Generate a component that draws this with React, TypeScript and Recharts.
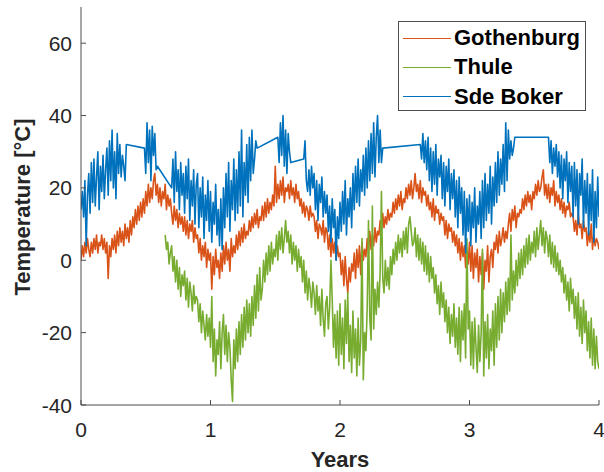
import React from 'react';
import { LineChart, Line, XAxis, YAxis } from 'recharts';

// Sampling interval of every temperature record, in years
const STEP = 0.01;

const YEAR_TICKS = [0, 1, 2, 3, 4];
const TEMP_TICKS = [-40, -20, 0, 20, 40, 60];

// Gothenburg, from t = 0
const gothenburg = [
  0, 4, 1, 5, 2, 6, 3, 1, 5, 2,
  6, 3, 7, 2, 5, 4, 7, 3, 6, 2,
  5, -5, 4, 1, 6, 3, 7, 2, 8, 4,
  9, 5, 8, 4, 10, 6, 9, 5, 11, 7,
  12, 9, 14, 10, 15, 11, 16, 12, 17, 13,
  19, 15, 21, 16, 20, 17, 22, 24, 18, 21,
  16, 20, 15, 19, 17, 21, 14, 18, 15, 17,
  13, 10, 15, 11, 14, 9, 13, 10, 12, 8,
  12, 7, 11, 6, 10, 8, 11, 5, 9, 6,
  7, 2, 6, 0, 4, 1, 5, -2, 3, 0,
  2, -8, 1, -4, 3, -2, 0, -5, 2, -3,
  4, -1, 5, 0, 3, -3, 6, 1, 4, 2,
  7, 3, 8, 4, 9, 5, 10, 6, 8, 7,
  11, 8, 12, 9, 13, 10, 14, 9, 12, 11,
  15, 11, 16, 12, 17, 13, 16, 14, 18, 15,
  26, 16, 21, 17, 22, 18, 23, 16, 20, 19,
  21, 17, 22, 18, 20, 16, 21, 17, 19, 15,
  17, 13, 16, 12, 15, 14, 11, 15, 12, 13,
  12, 8, 11, 6, 10, 9, 7, 11, 5, 9,
  8, 3, 7, 1, 6, 2, 5, 0, 4, 1,
  2, -4, 0, -7, 1, -5, -9, -2, -6, -1,
  -3, 2, -5, 3, -2, 4, -4, 5, 0, 3,
  1, 6, 2, 8, 3, 7, 4, 9, 5, 8,
  7, 11, 8, 13, 9, 12, 10, 14, 11, 13,
  12, 16, 13, 17, 14, 18, 15, 19, 14, 17,
  16, 20, 17, 21, 18, 22, 17, 20, 24, 19,
  21, 17, 22, 16, 20, 18, 19, 15, 18, 14,
  16, 12, 17, 11, 15, 13, 14, 10, 13, 11,
  12, 7, 11, 6, 10, 8, 9, 5, 8, 4,
  7, 2, 6, 0, 5, 1, 4, -2, 3, -1,
  5, -3, 4, -5, 2, -2, 3, -6, 1, -4,
  2, -8, 0, -3, 4, -6, 1, 3, -2, 5,
  3, 7, 2, 8, 4, 6, 9, 5, 8, 6,
  10, 13, 8, 14, 11, 15, 9, 13, 12, 14,
  13, 17, 14, 18, 15, 19, 16, 18, 14, 19,
  17, 21, 18, 22, 19, 20, 23, 25, 18, 21,
  17, 21, 16, 20, 18, 22, 15, 19, 16, 18,
  14, 17, 13, 16, 12, 15, 14, 16, 12, 13,
  12, 8, 11, 7, 13, 9, 10, 6, 11, 8,
  9, 4, 8, 5, 10, 3, 7, 4, 6, 5,
  3,
];

// Thule, record begins at t = 0.65
const thuleStart = 0.65;
const thule = [
  7, 3, 5, -1, 2,
  4, -3, 1, -6, 0, -8, -2, -10, -4, -7,
  -3, -11, -5, -13, -6, -9, -14, -7, -12, -10,
  -11, -17, -12, -20, -14, -18, -22, -15, -21, -16,
  -24, -10, -28, -19, -32, -22, -26, -17, -30, -20,
  -15, -26, -18, -28, -20, -24, -33, -39, -22, -30,
  -19, -28, -17, -26, -15, -24, -13, -22, -11, -20,
  -12, -21, -10, -18, -7, -16, -4, -14, -2, -11,
  -8, 0, -6, 2, -4, 4, -3, 5, -1, 3,
  1, 7, 0, 8, 3, 9, 2, 6, 11, 5,
  8, 2, 7, -1, 5, 0, 4, -3, 3, -2,
  1, -6, 0, -9, -3, -11, -5, -8, -13, -6,
  -9, -15, -7, -14, -10, -18, -8, -16, -21, -12,
  -10, -19, -13, 0, -11, -24, -15, -27, -14, -29,
  -12, -26, -16, -30, -11, -23, -9, -28, -18, -31,
  -14, -27, -19, -32, -16, -29, -22, 6, -33, -20,
  -25, -13, 11, -16, -22, 15, -19, -8, -15, -6,
  -13, -3, 19, -5, -9, 0, -7, -2, -8, 1,
  -4, 3, -1, 5, 0, 7, 2, 6, 1, 8,
  3, 9, 2, 10, 12, 8, 4, 5, 9, 1,
  7, 0, 6, -1, 5, -3, 4, -4, 2, -6,
  1, -5, -2, -9, -4, -12, -7, -15, -6, -13,
  -9, -17, -11, -20, -13, -23, -15, -21, -12, -24,
  -16, -26, -13, -28, -14, -22, -12, -27, 6, -19,
  -14, -29, -17, -30, -16, -24, -31, -18, -28, -20,
  3, -32, -17, -27, -15, -30, -19, -25, -14, -29,
  -12, -24, -10, -22, -8, -20, -9, -17, -6, -15,
  -5, -14, 7, -11, -3, -9, 0, -7, 2, -5,
  3, -4, 4, -2, 6, -1, 7, 0, 5, 2,
  8, 1, 9, 3, 7, 11, 4, 9, 2, 8,
  6, 1, 7, -1, 5, -2, 4, -3, 2, -4,
  0, -6, -2, -9, -4, -11, -6, -14, -5, -12,
  -8, -16, -10, -19, -9, -21, -13, -23, -11, -20,
  -14, -25, -17, -27, -16, -29, -19, -30, -21, -28,
  -30,
];

// Sde Boker, recorded in stretches; the line runs straight across missing days
const sdeBoker1Start = 0.0;
const sdeBoker1 = [
  14, 19, 12, 22, 4, 18, 24, 13, 27, 16,
  28, 15, 23, 30, 14, 26, 19, 29, 17, 25,
  31, 18, 33, 22, 36, 20, 30, 17, 35, 24,
  32, 23, 29, 26, 22, 32,
];
const sdeBoker2Start = 0.49;
const sdeBoker2 = [31, 24, 38, 27, 36, 22, 37, 29, 35, 25, 26];
const sdeBoker3Start = 0.7;
const sdeBoker3 = [
  20, 28, 16, 30, 19, 25, 14, 27, 18, 24,
  13, 26, 17, 28, 11, 22, 15, 25, 10, 21,
  24, 9, 20, 12, 23, 6, 18, 11, 22, 8,
  19, 5, 16, 10, 21, 7, 14, 4, 17, 3,
  20, 9, 24, 12, 27, 8, 22, 14, 28, 11,
  25, 13, 30, 15, 36, 12, 27, 18, 32, 16,
  34, 22, 36, 24, 28, 33, 31,
];
const sdeBoker4Start = 1.52;
const sdeBoker4 = [34, 27, 38, 29, 40, 26, 36, 24, 35, 30, 27];
const sdeBoker5Start = 1.72;
const sdeBoker5 = [
  28, 33, 22, 19, 25, 18, 26, 20,
  24, 14, 22, 11, 21, 16, 23, 12, 19, 13,
  18, 8, 15, 5, 17, 9, 14, 0, 12, 6,
  16, 8, 19, 10, 22, 7, 17, 12, 20, 9,
  24, 14, 26, 16, 28, 15, 25, 19, 29, 18,
  31, 20, 33, 22, 35, 24, 38, 23, 34, 40,
  27, 36, 27, 31,
];
const sdeBoker6Start = 2.62;
const sdeBoker6 = [
  32, 28, 35, 27, 33, 25, 34, 22,
  31, 19, 30, 21, 32, 18, 28, 23, 29, 17,
  27, 15, 26, 19, 28, 14, 24, 17, 25, 12,
  22, 9, 23, 13, 20, 7, 19, 2, 17, 8,
  18, 4, 16, 9, 20, 5, 15, 10, 19, 6,
  22, 9, 24, 11, 21, 13, 26, 10, 23, 15,
  27, 16, 30, 18, 28, 21, 32, 19, 38, 22,
  36, 28, 33, 29, 31, 34,
];
const sdeBoker7Start = 3.61;
const sdeBoker7 = [
  34, 27, 33, 24, 31, 26, 32, 23, 30,
  20, 29, 17, 28, 22, 30, 16, 27, 19, 26,
  12, 27, 15, 25, 10, 24, 18, 28, 9, 22,
  13, 24, 7, 21, 11, 25, 5, 19, 9, 23,
  12,
];

type Point = { t: number; v: number };

const toPoints = (start: number, values: number[]): Point[] =>
  values.map((v, i) => ({ t: Math.round((start + i * STEP) * 100) / 100, v }));

const gothenburgData = toPoints(0, gothenburg);
const thuleData = toPoints(thuleStart, thule);
const sdeBokerData = [
  ...toPoints(sdeBoker1Start, sdeBoker1),
  ...toPoints(sdeBoker2Start, sdeBoker2),
  ...toPoints(sdeBoker3Start, sdeBoker3),
  ...toPoints(sdeBoker4Start, sdeBoker4),
  ...toPoints(sdeBoker5Start, sdeBoker5),
  ...toPoints(sdeBoker6Start, sdeBoker6),
  ...toPoints(sdeBoker7Start, sdeBoker7),
];

const SERIES = [
  { name: 'Gothenburg', color: '#D95319', data: gothenburgData },
  { name: 'Thule', color: '#77AC30', data: thuleData },
  { name: 'Sde Boker', color: '#0072BD', data: sdeBokerData },
];

const FONT = '"Liberation Sans", Arial, Helvetica, sans-serif';
const INK = '#262626';
const AXIS = '#4d4d4d';

const YTick = (props: any) => {
  const { x, y, payload } = props;
  return (
    <g>
      <line x1={x + 9} x2={x + 14} y1={y} y2={y} stroke={AXIS} strokeWidth={1} />
      <text x={x} y={y} dy="0.36em" textAnchor="end" fontSize={21} fontFamily={FONT} fill={INK}>
        {payload.value}
      </text>
    </g>
  );
};

const XTick = (props: any) => {
  const { x, y, payload } = props;
  return (
    <g>
      <line x1={x} x2={x} y1={y} y2={y - 5} stroke={AXIS} strokeWidth={1} />
      <text x={x} y={y + 32} textAnchor="middle" fontSize={21} fontFamily={FONT} fill={INK}>
        {payload.value}
      </text>
    </g>
  );
};

const XLabel = (props: any) => {
  const { viewBox } = props;
  const cx = viewBox.x + viewBox.width / 2;
  return (
    <text x={cx} y={viewBox.y + 62} textAnchor="middle" fontSize={22} fontWeight="bold" fontFamily={FONT} fill={INK}>
      Years
    </text>
  );
};

const YLabel = (props: any) => {
  const { viewBox } = props;
  const cy = viewBox.y + viewBox.height / 2 + 1;
  const bx = 30;
  return (
    <text
      x={bx}
      y={cy}
      transform={`rotate(-90, ${bx}, ${cy})`}
      textAnchor="middle"
      fontSize={22}
      fontWeight="bold"
      fontFamily={FONT}
      fill={INK}
    >
      Temperature [°C]
    </text>
  );
};

// Legend box drawn over the top-right corner of the axes
const LegendBox = () => (
  <div
    style={{
      position: 'absolute',
      left: 398,
      top: 21,
      width: 188,
      height: 90,
      boxSizing: 'border-box',
      border: `1px solid ${AXIS}`,
      background: '#fff',
      fontFamily: FONT,
    }}
  >
    {SERIES.map((s, i) => (
      <div
        key={s.name}
        style={{
          position: 'absolute',
          left: 4,
          top: 5 + i * 29.3,
          height: 22,
          display: 'flex',
          alignItems: 'center',
          whiteSpace: 'nowrap',
        }}
      >
        <div style={{ width: 48, height: 1, background: s.color }} />
        <span
          style={{
            marginLeft: 3,
            fontSize: 22,
            lineHeight: '22px',
            fontWeight: 'bold',
            color: '#000',
          }}
        >
          {s.name}
        </span>
      </div>
    ))}
  </div>
);

export default function App() {
  return (
    <div style={{ position: 'absolute', left: 0, top: 0, width: 604, height: 472, background: '#fff' }}>
      <LineChart width={604} height={472} margin={{ top: 7, right: 5, bottom: 0, left: 0 }}>
        <XAxis
          type="number"
          dataKey="t"
          domain={[0, 4]}
          ticks={YEAR_TICKS}
          allowDataOverflow
          height={67}
          tickSize={0}
          tickMargin={0}
          tickLine={false}
          axisLine={{ stroke: AXIS, strokeWidth: 1 }}
          tick={<XTick />}
          label={<XLabel />}
        />
        <YAxis
          type="number"
          domain={[-40, 70]}
          ticks={TEMP_TICKS}
          allowDataOverflow
          width={81}
          tickSize={0}
          tickMargin={9}
          tickLine={false}
          axisLine={{ stroke: AXIS, strokeWidth: 1 }}
          tick={<YTick />}
          label={<YLabel />}
        />
        {SERIES.map((s) => (
          <Line
            key={s.name}
            data={s.data}
            dataKey="v"
            name={s.name}
            type="linear"
            stroke={s.color}
            strokeWidth={1.6}
            strokeLinejoin="round"
            dot={false}
            activeDot={false}
            isAnimationActive={false}
          />
        ))}
      </LineChart>
      <LegendBox />
    </div>
  );
}
